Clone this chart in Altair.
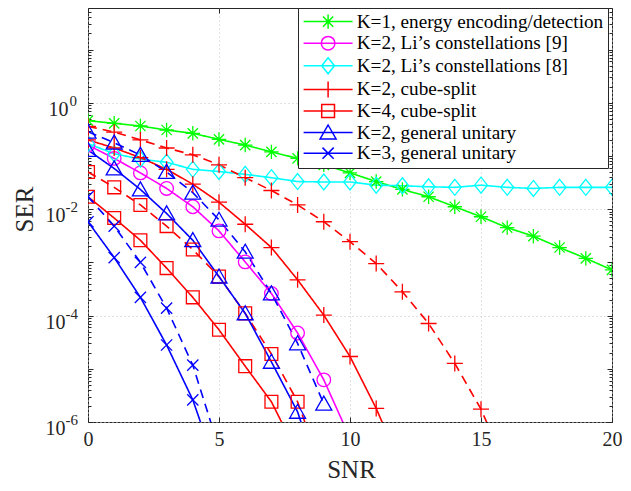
import altair as alt
import pandas as pd

# ---------------- data ----------------
snr = list(range(0, 21))

ser_k1_energy = [0.46, 0.41, 0.365, 0.307, 0.266, 0.205, 0.160, 0.119, 0.090, 0.068, 0.048,
                 0.033, 0.0235, 0.0171, 0.0111, 0.0072, 0.0045, 0.0031, 0.0019, 0.00119, 0.00072]
ser_li9 = [0.160, 0.090, 0.048, 0.0245, 0.0111, 0.0039, 1.02e-3, 2.6e-4, 4.7e-5, 6.2e-6, 5e-7]
ser_li8 = [0.17, 0.11, 0.087, 0.076, 0.056, 0.051, 0.045, 0.039, 0.033, 0.0324, 0.0324,
           0.0282, 0.0275, 0.0263, 0.0257, 0.0282, 0.0257, 0.0245, 0.0257, 0.0257, 0.0257]
ser_k2_cube = [0.20, 0.141, 0.093, 0.056, 0.0295, 0.0135, 0.0052, 0.0019, 4.7e-4, 1.02e-4,
               1.7e-5, 1.8e-6, 1.3e-7]
ser_k2_cube_dash = [0.36, 0.28, 0.20, 0.141, 0.105, 0.068, 0.039, 0.0224, 0.012, 0.0058,
                    0.00245, 9.5e-4, 2.8e-4, 7.1e-5, 1.26e-5, 1.74e-6, 1.3e-7]
ser_k4_cube = [0.0171, 0.0068, 0.0026, 7.8e-4, 2.2e-4, 5.4e-5, 1.12e-5, 2.4e-6, 2.5e-7]
ser_k4_cube_dash = [0.050, 0.0257, 0.012, 0.0048, 0.00174, 5.4e-4, 1.1e-4, 1.9e-5, 2.4e-6, 1e-7]
ser_k2_gu = [0.129, 0.058, 0.0234, 0.0083, 0.0026, 5.4e-4, 1.1e-4, 1.35e-5, 1.55e-6, 5e-8]
ser_k2_gu_dash = [0.285, 0.177, 0.104, 0.050, 0.0204, 0.0063, 0.00158, 2.6e-4, 3.0e-5, 2.2e-6]
ser_k3_gu = [0.0058, 0.00123, 2.2e-4, 2.8e-5, 2.6e-6, 1e-7]
ser_k3_gu_dash = [0.0171, 0.0048, 0.0010, 1.38e-4, 1.17e-5, 3.2e-7]

legend_labels = [
    "K=1, energy encoding/detection",
    "K=2, Li\u2019s constellations [9]",
    "K=2, Li\u2019s constellations [8]",
    "K=2, cube-split",
    "K=4, cube-split",
    "K=2, general unitary",
    "K=3, general unitary",
]
x_ticks = [0, 5, 10, 15, 20]
y_major = [1e-6, 1e-4, 1e-2, 1e0]
y_exponents = ["-6", "-4", "-2", "0"]

# ---------------- styles ----------------
FONT = "Liberation Serif"
AXC = "#262626"
COLORS = {"green": "#00ff00", "magenta": "#ff00ff", "cyan": "#00ffff", "red": "#ff0000", "blue": "#0000ff"}

series = [
    ("k1_energy", ser_k1_energy, "green", "asterisk", "solid"),
    ("li9", ser_li9, "magenta", "circle", "solid"),
    ("li8", ser_li8, "cyan", "diamond", "solid"),
    ("k2_cube", ser_k2_cube, "red", "plus", "solid"),
    ("k2_cube_d", ser_k2_cube_dash, "red", "plus", "dashed"),
    ("k4_cube", ser_k4_cube, "red", "square", "solid"),
    ("k4_cube_d", ser_k4_cube_dash, "red", "square", "dashed"),
    ("k2_gu", ser_k2_gu, "blue", "triangle", "solid"),
    ("k2_gu_d", ser_k2_gu_dash, "blue", "triangle", "dashed"),
    ("k3_gu", ser_k3_gu, "blue", "cross", "solid"),
    ("k3_gu_d", ser_k3_gu_dash, "blue", "cross", "dashed"),
]
legend_color_keys = ["green", "magenta", "cyan", "red", "red", "blue", "blue"]
legend_marker_keys = ["asterisk", "circle", "diamond", "plus", "square", "triangle", "cross"]


def f(v):
    return f"{round(v, 3)}"


def marker_path(kind, k=1.0, line=0.0):
    p = []
    if line:
        p.append(f"M{f(-line)},0H{f(line)}")
    if kind == "square":
        a = 0.8 * k
        p.append(f"M{f(-a)},{f(-a)}H{f(a)}V{f(a)}H{f(-a)}Z")
    elif kind == "circle":
        r = 0.85 * k
        p.append(f"M{f(r)},0A{f(r)},{f(r)},0,1,1,{f(-r)},0A{f(r)},{f(r)},0,1,1,{f(r)},0Z")
    elif kind == "triangle":
        p.append(f"M0,{f(-0.95 * k)}L{f(k)},{f(0.8 * k)}L{f(-k)},{f(0.8 * k)}Z")
    elif kind == "plus":
        p.append(f"M{f(-k)},0H{f(k)}M0,{f(-k)}V{f(k)}")
    elif kind == "asterisk":
        a, b = 0.9 * k, 0.64 * k
        p.append(f"M{f(-a)},0H{f(a)}M0,{f(-a)}V{f(a)}M{f(-b)},{f(-b)}L{f(b)},{f(b)}M{f(-b)},{f(b)}L{f(b)},{f(-b)}")
    elif kind == "cross":
        a = 0.7 * k
        p.append(f"M{f(-a)},{f(-a)}L{f(a)},{f(a)}M{f(-a)},{f(a)}L{f(a)},{f(-a)}")
    elif kind == "diamond":
        p.append(f"M0,{f(-k)}L{f(0.8 * k)},0L0,{f(k)}L{f(-0.8 * k)},0Z")
    return "".join(p)


marker_kinds = ["asterisk", "circle", "diamond", "plus", "square", "triangle", "cross"]

rows = []
for sid, vals, ck, mk, st in series:
    for i, v in enumerate(vals):
        rows.append({"series": sid, "snr": snr[i], "ser": v, "ckey": ck, "marker": mk, "style": st})
df = pd.DataFrame(rows)
leg_df = pd.DataFrame({"label": legend_labels})

# ---------------- scales / axes ----------------
W, H = 524, 414
Y_TOP = 10 ** 1.78
xs = alt.Scale(domain=[0, 20], nice=False, zero=False)
ys = alt.Scale(type="log", domain=[1e-6, Y_TOP], nice=False)

y_ticks = [d * 10.0 ** e for e in range(-6, 2) for d in range(1, 10) if d * 10.0 ** e <= Y_TOP]
tick_size_cond = {"condition": {"test": "abs(log(datum.value)/LN10 - round(log(datum.value)/LN10)) < 0.001",
                                "value": 5}, "value": 3}

sup_expr = ("datum.value > 0.5 ? '" + y_exponents[3] + "' : datum.value > 0.005 ? '" + y_exponents[2] +
            "' : datum.value > 0.00005 ? '" + y_exponents[1] + "' : '" + y_exponents[0] + "'")

ax_x_main = alt.Axis(orient="bottom", values=x_ticks, title="SNR", labelFont=FONT, labelFontSize=20,
                     labelColor=AXC, labelPadding=7, tickSize=0, domain=False, grid=True,
                     gridDash=[1, 3], gridColor="#c4c4c4", labelFlush=False, titleFont=FONT,
                     titleFontSize=25, titleFontWeight="normal", titleColor=AXC, titleX=263, titleY=55,
                     titleBaseline="alphabetic")
ax_y_main = alt.Axis(orient="left", values=y_major, labelExpr="'10'", title="SER", labelFont=FONT,
                     labelFontSize=20, labelColor=AXC, labelAlign="right", labelBaseline="alphabetic",
                     labelOffset=12.5,
                     labelPadding={"condition": {"test": "datum.value > 0.5", "value": 20}, "value": 23},
                     tickSize=0, domain=False,
                     grid=True, gridDash=[1, 3], gridColor="#c4c4c4", labelOverlap=False, titleFont=FONT,
                     titleFontSize=25, titleFontWeight="normal", titleColor=AXC, titleX=-56, titleY=201,
                     titleBaseline="alphabetic")
ax_y_sup = alt.Axis(orient="left", values=y_major, labelExpr=sup_expr, title=None, labelFont=FONT,
                    labelFontSize=15, labelColor=AXC, labelAlign="left", labelBaseline="alphabetic",
                    labelOffset=2.5,
                    labelPadding={"condition": {"test": "datum.value > 0.5", "value": 19}, "value": 23},
                    tickSize=0, domain=False, grid=False, labelOverlap=False)
ax_x_bot_ticks = alt.Axis(orient="top", offset=-H, values=x_ticks, labels=False, domain=False, grid=False,
                          title=None, tickSize=5, tickColor=AXC)
ax_x_top_ticks = alt.Axis(orient="bottom", offset=-H, values=x_ticks, labels=False, domain=False, grid=False,
                          title=None, tickSize=5, tickColor=AXC)
ax_y_left_ticks = alt.Axis(orient="right", offset=-W, values=y_ticks, labels=False, domain=False, grid=False,
                           title=None, tickSize=tick_size_cond, tickColor=AXC)
ax_y_right_ticks = alt.Axis(orient="left", offset=-W, values=y_ticks, labels=False, domain=False, grid=False,
                            title=None, tickSize=tick_size_cond, tickColor=AXC)

color_scale = alt.Scale(domain=list(COLORS.keys()), range=list(COLORS.values()))

lines = alt.Chart(df).mark_line(clip=True, strokeWidth=1.6).encode(
    x=alt.X("snr:Q", scale=xs, axis=ax_x_main),
    y=alt.Y("ser:Q", scale=ys, axis=ax_y_main),
    color=alt.Color("ckey:N", scale=color_scale, legend=None),
    strokeDash=alt.StrokeDash("style:N", scale=alt.Scale(domain=["solid", "dashed"], range=[[1, 0], [9, 6]]),
                              legend=None),
    detail="series:N",
)

points = alt.Chart(df).mark_point(clip=True, filled=False, strokeWidth=1.3, size=256, opacity=1).encode(
    x=alt.X("snr:Q", scale=xs, axis=ax_x_bot_ticks),
    y=alt.Y("ser:Q", scale=ys, axis=ax_y_left_ticks),
    color=alt.Color("ckey:N", scale=color_scale, legend=None),
    shape=alt.Shape("marker:N", scale=alt.Scale(domain=marker_kinds,
                                                range=[marker_path(m) for m in marker_kinds]), legend=None),
)

leg = dict(orient="none", legendX=210, legendY=0, title=None, fillColor="white", strokeColor=AXC,
           padding=4, labelFont=FONT, labelFontSize=19.2, labelColor="black", labelLimit=500,
           symbolSize=256, symbolStrokeWidth=1.5, symbolOffset=16.5, labelOffset=19, rowPadding=0.6)

legend_layer = alt.Chart(leg_df).transform_filter("false").mark_point(filled=False, strokeWidth=1.5, opacity=1).encode(
    x=alt.X("snr:Q", scale=xs, axis=ax_x_top_ticks),
    y=alt.Y("ser:Q", scale=ys, axis=ax_y_right_ticks),
    color=alt.Color("label:N", scale=alt.Scale(domain=legend_labels,
                                               range=[COLORS[c] for c in legend_color_keys]),
                    legend=alt.Legend(**leg)),
    shape=alt.Shape("label:N", scale=alt.Scale(domain=legend_labels,
                                               range=[marker_path(m, 1.0, 3.06) for m in legend_marker_keys]),
                    legend=alt.Legend(**leg)),
)

sup_layer = alt.Chart(leg_df).transform_filter("false").mark_point().encode(
    x=alt.X("snr:Q", scale=xs, axis=None),
    y=alt.Y("ser:Q", scale=ys, axis=ax_y_sup),
)

chart = alt.layer(lines, points, legend_layer, sup_layer).resolve_scale(
    color="independent", shape="independent", strokeDash="independent"
).resolve_axis(x="independent", y="independent").properties(
    width=W, height=H,
    padding={"left": 80, "top": 0, "right": 10, "bottom": 61},
    autosize=alt.AutoSizeParams(type="none"),
).configure_view(stroke=AXC, strokeWidth=1).configure_legend(labelFont=FONT, labelFontSize=19.2)

chart.save("out.html", embed_options={"renderer": "svg", "actions": False})
